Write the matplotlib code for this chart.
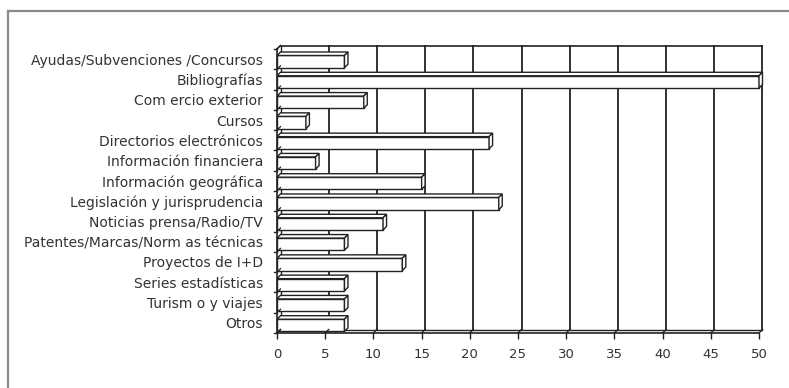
import matplotlib
matplotlib.use("Agg")
from matplotlib import pyplot as plt
from matplotlib.patches import Polygon
from matplotlib.lines import Line2D

categorias = ["Ayudas/Subvenciones /Concursos", "Bibliografías", "Com ercio exterior",
              "Cursos", "Directorios electrónicos", "Información financiera",
              "Información geográfica", "Legislación y jurisprudencia",
              "Noticias prensa/Radio/TV", "Patentes/Marcas/Norm as técnicas",
              "Proyectos de I+D", "Series estadísticas", "Turism o y viajes", "Otros"]
valores = [7, 50, 9, 3, 22, 4, 15, 23, 11, 7, 13, 7, 7, 7]
ticks_x = [0, 5, 10, 15, 20, 25, 30, 35, 40, 45, 50]

plt.rcParams['font.family'] = ['DejaVu Sans']

W, H = 789, 388
fig = plt.figure(figsize=(W / 100, H / 100), dpi=100)
# front plot area in pixels
x0, x1, ytop, ybot = 277, 759, 49, 333
ax = fig.add_axes([x0 / W, 1 - ybot / H, (x1 - x0) / W, (ybot - ytop) / H])

n = len(categorias)
xmax = 50
ax.set_xlim(0, xmax)
ax.set_ylim(n - 0.5, -0.5)

# 3D offset: 3.5 px right and up
dx = 3.5 * xmax / (x1 - x0)
dy = 3.5 * n / (ybot - ytop)

ec = "#222222"
top = -0.5 - dy
bot = n - 0.5
# back wall gridlines
for t in ticks_x[1:]:
    ax.plot([t + dx, t + dx], [top, bot - dy], color=ec, lw=1.3, zorder=1, clip_on=False)
ax.plot([dx, xmax + dx], [top, top], color=ec, lw=1.2, zorder=1, clip_on=False)
ax.plot([dx, dx], [top, bot - dy], color=ec, lw=1.0, zorder=1, clip_on=False)
# floor
ax.plot([dx, xmax + dx], [bot - dy, bot - dy], color=ec, lw=1.0, zorder=1, clip_on=False)
ax.plot([0, xmax], [bot, bot], color=ec, lw=1.2, zorder=5, clip_on=False)
for t in ticks_x:
    ax.plot([t, t + dx], [bot, bot - dy], color=ec, lw=1.0, zorder=5, clip_on=False)
# left wall
ax.plot([0, 0], [-0.5, bot], color=ec, lw=1.2, zorder=5, clip_on=False)
ax.plot([0, dx], [-0.5, top], color=ec, lw=1.0, zorder=5, clip_on=False)
for k in range(n + 1):
    yb = k - 0.5
    ax.plot([0, dx], [yb, yb - dy], color=ec, lw=0.9, zorder=5, clip_on=False)
    ax.plot([-dx * 0.8, 0], [yb, yb], color=ec, lw=1.0, zorder=5, clip_on=False)

# bars
h = 0.6
for i, v in enumerate(valores):
    yc = i + 0.12
    b0, b1 = yc - h / 2, yc + h / 2
    ax.add_patch(Polygon([(0, b0), (v, b0), (v, b1), (0, b1)], closed=True,
                         fc="white", ec=ec, lw=1.0, zorder=3, clip_on=False))
    ax.add_patch(Polygon([(0, b0), (v, b0), (v + dx, b0 - dy), (dx, b0 - dy)], closed=True,
                         fc="white", ec=ec, lw=1.0, zorder=3, clip_on=False))
    ax.add_patch(Polygon([(v, b0), (v + dx, b0 - dy), (v + dx, b1 - dy), (v, b1)], closed=True,
                         fc="white", ec=ec, lw=1.0, zorder=3, clip_on=False))

for s in ax.spines.values():
    s.set_visible(False)
ax.set_xticks(ticks_x)
ax.set_xticklabels([str(t) for t in ticks_x], fontsize=9.5, color="#333333")
ax.tick_params(axis="x", length=4, width=1, color=ec, pad=7)
ax.set_yticks(range(n))
ax.set_yticklabels(categorias, fontsize=10, color="#333333")
ax.tick_params(axis="y", length=0, pad=10)
ax.patch.set_visible(False)

# outer frame
fig.add_artist(Line2D([8 / W, 1], [1 - 11 / H, 1 - 11 / H], color="#8a8a8a", lw=1.6))
fig.add_artist(Line2D([8 / W, 8 / W], [1 - 11 / H, 0], color="#8a8a8a", lw=1.6))

fig.savefig("out.png", dpi=100)
